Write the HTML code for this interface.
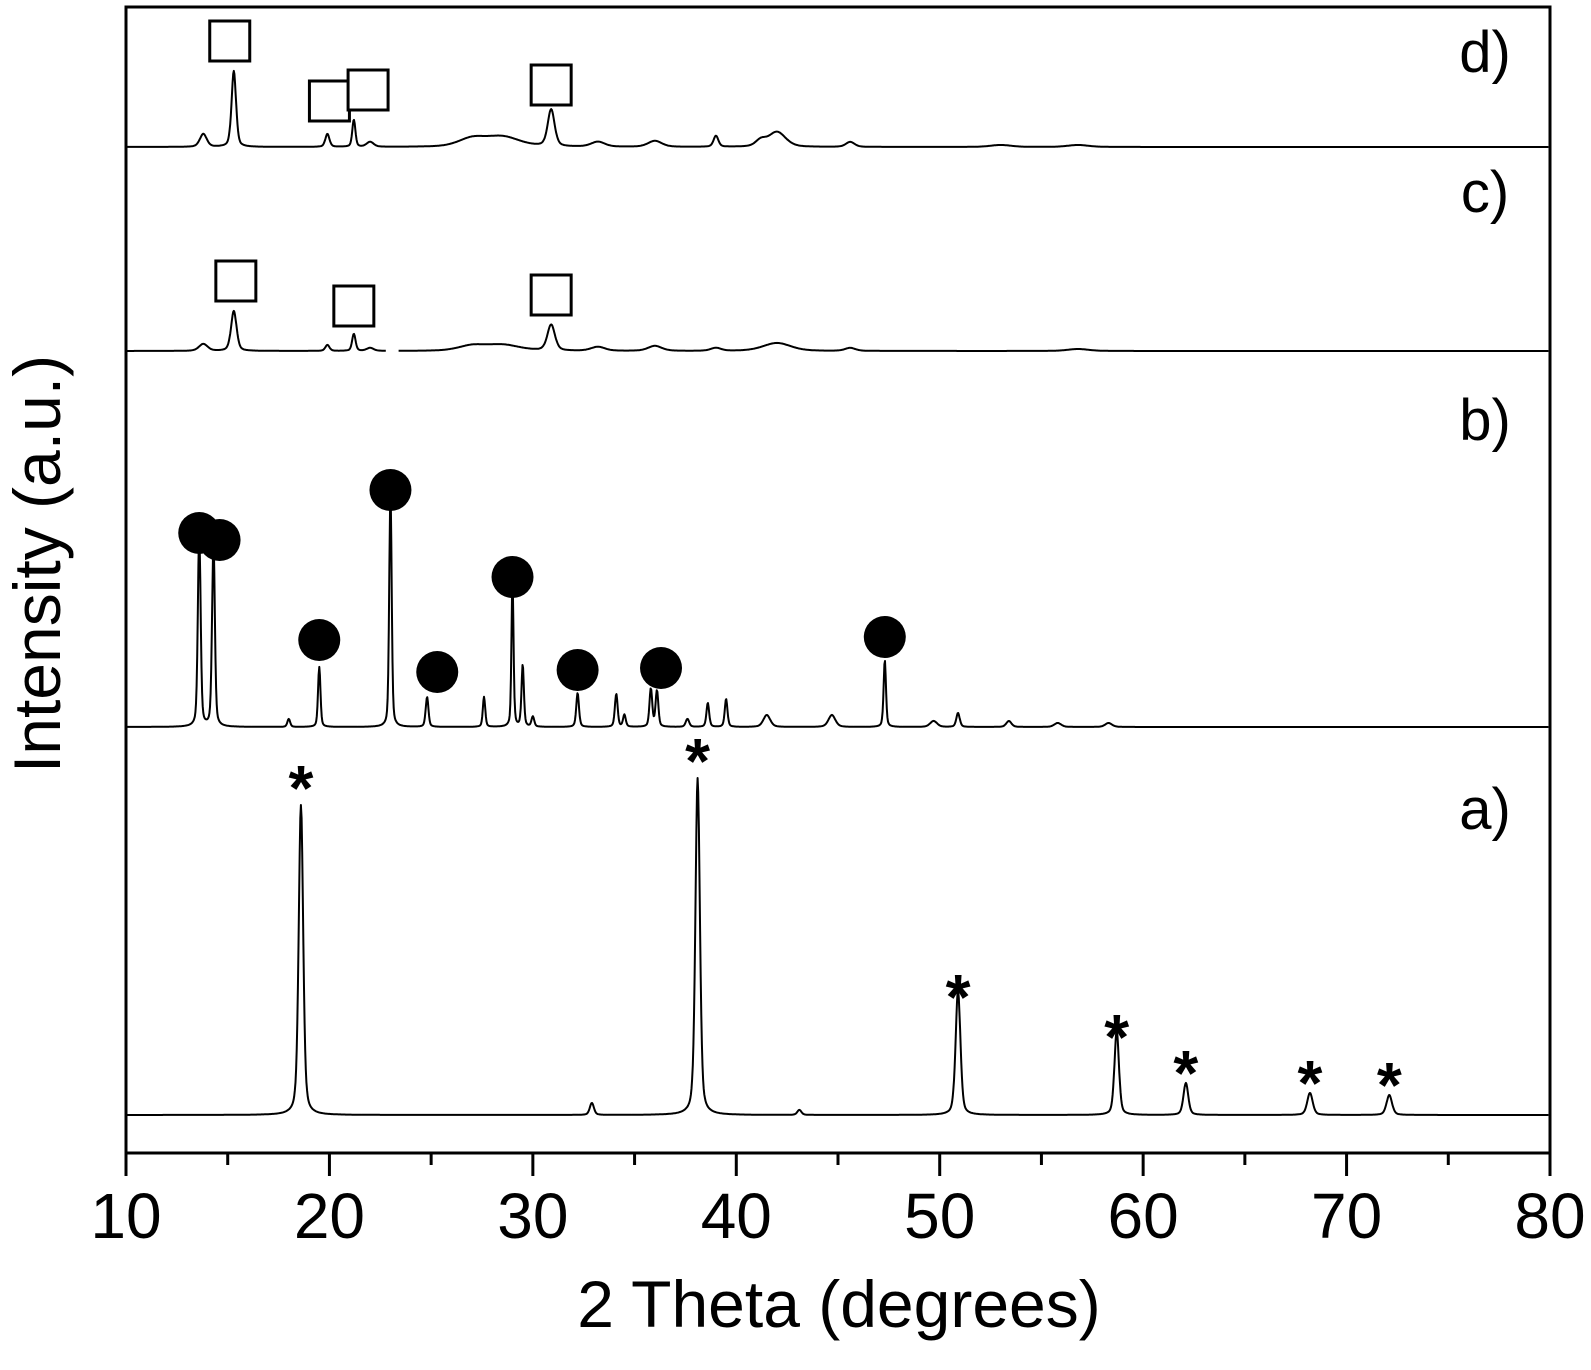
<!DOCTYPE html>
<html><head><meta charset="utf-8"><style>
html,body{margin:0;padding:0;background:#fff}
svg{display:block}
text{font-family:"Liberation Sans",Arial,sans-serif;fill:#000}
</style></head><body>
<svg id="chart" width="1591" height="1370" viewBox="0 0 1591 1370" xmlns="http://www.w3.org/2000/svg">
<g id="traces"></g>
<g id="markers"></g>
<g id="axes"></g>
<text x="839" y="1327" font-size="66" text-anchor="middle">2 Theta (degrees)</text>
<text x="0" y="0" font-size="66" text-anchor="middle" transform="translate(60,564) rotate(-90)">Intensity (a.u.)</text>
</svg>
<script>
// x-axis
const xTicks = [10,20,30,40,50,60,70,80];
const xMinor = [15,25,35,45,55,65,75];
// trace labels and baselines (offsets)
const traceNames = ["a)","b)","c)","d)"];
const baselines = [1115,727,351,147];
const labelY = [829,440,212,72];
// peaks per trace: position (deg), height, width (deg)
const aPos = [18.6,32.9,38.1,43.1,50.9,58.7,62.1,68.2,72.1];
const aH   = [310,12,337,5,125,85,32,22,20];
const aW   = [0.13,0.12,0.13,0.12,0.14,0.13,0.14,0.16,0.16];
const bPos = [13.6,14.3,18.0,19.5,23.0,24.8,27.6,29.0,29.5,30.0,32.2,34.1,34.5,35.8,36.1,37.6,38.6,39.5,41.5,44.7,47.3,49.7,50.9,53.4,55.8,58.3];
const bH   = [195,187,8,60,237,30,30,150,62,10,34,33,12,38,36,8,24,28,12,12,67,6,14,6,4,4];
const bW   = [0.08,0.08,0.08,0.07,0.07,0.08,0.07,0.06,0.07,0.08,0.08,0.08,0.08,0.08,0.08,0.1,0.08,0.08,0.2,0.2,0.07,0.2,0.1,0.15,0.2,0.2];
const cPos = [13.8,15.3,19.9,21.2,22.0,27.0,28.5,30.9,33.2,36.0,39.0,42.0,45.6,56.8];
const cH   = [7,40,6,17,3,5,6,26,4,5,3,8,3,2];
const cW   = [0.25,0.16,0.12,0.1,0.2,0.8,1.0,0.22,0.4,0.4,0.3,0.8,0.3,0.6];
const dPos = [13.8,15.3,19.9,21.2,22.0,27.0,28.5,30.9,33.2,36.0,39.0,41.2,42.0,45.6,53.0,56.8];
const dH   = [13,76,13,27,5,8,10,37,5,6,11,6,15,5,2,2];
const dW   = [0.2,0.13,0.12,0.09,0.2,0.8,1.0,0.2,0.4,0.4,0.14,0.3,0.5,0.25,0.6,0.6];
// markers
const starPos = [18.6,38.1,50.9,58.7,62.1,68.2,72.1];
const starH   = [337,364,128,88,52,42,40];
const circPos = [13.6,14.6,19.5,23.0,25.3,29.0,32.2,36.3,47.3];
const circH   = [194,187,87,237,55,150,57,59,90];
const cSqPos  = [15.4,21.2,30.9];
const cSqH    = [70,45,56];
const dSqPos  = [15.1,20.0,21.9,30.9];
const dSqH    = [106,46,57,62];

const NS="http://www.w3.org/2000/svg";
const X0=126,X1=1550,YT=7,YB=1153;
function xs(d){return X0+(d-10)*(X1-X0)/70;}
function mk(tag,attrs,parent){const e=document.createElementNS(NS,tag);for(const k in attrs)e.setAttribute(k,attrs[k]);parent.appendChild(e);return e;}
const traces=document.getElementById('traces'),markers=document.getElementById('markers'),axes=document.getElementById('axes');

function profile(d,P,H,W){let s=0;for(let i=0;i<P.length;i++){const u=(d-P[i])/W[i];s+=H[i]*(0.6*Math.exp(-0.693*u*u)+0.4/(1+u*u));}return s;}
const sets=[[aPos,aH,aW],[bPos,bH,bW],[cPos,cH,cW],[dPos,dH,dW]];
for(let t=0;t<4;t++){
  const [P,H,W]=sets[t];let dstr="";let pen=false;
  for(let d=10.05;d<=79.95;d+=0.03){
    if(t===2 && d>22.8 && d<23.4){pen=false;continue;}
    const y=baselines[t]-profile(d,P,H,W);
    dstr+=(pen?"L":"M")+xs(d).toFixed(1)+" "+y.toFixed(1);pen=true;
  }
  const p=mk('path',{d:dstr,fill:'none',stroke:'#000','stroke-width':2,'stroke-linejoin':'round'},traces);
  
  
  const l=mk('text',{x:1485,y:labelY[t],'font-size':58,'text-anchor':'middle'},markers);
  l.textContent=traceNames[t];
  
  
}
for(let i=0;i<starPos.length;i++){
  const s=mk('text',{x:xs(starPos[i]),y:baselines[0]-starH[i]+32,'font-size':64,'font-weight':'bold','text-anchor':'middle'},markers);
  s.textContent='*';
  
  
}
for(let i=0;i<circPos.length;i++){
  const c=mk('circle',{cx:xs(circPos[i]),cy:baselines[1]-circH[i],r:21,fill:'#000'},markers);
  
  
}
function squares(P,H,t){for(let i=0;i<P.length;i++){
  const r=mk('rect',{x:xs(P[i])-20,y:baselines[t]-H[i]-20,width:40,height:40,fill:'#fff',stroke:'#000','stroke-width':3},markers);
  
  
}}
squares(cSqPos,cSqH,2);squares(dSqPos,dSqH,3);

const fr=mk('rect',{x:X0,y:YT,width:X1-X0,height:YB-YT,fill:'none',stroke:'#000','stroke-width':3},axes);


for(const v of xTicks){
  const tk=mk('line',{x1:xs(v),x2:xs(v),y1:YB,y2:YB+23,stroke:'#000','stroke-width':3},axes);
  
  
  const tl=mk('text',{x:xs(v),y:1238,'font-size':64,'text-anchor':'middle'},axes);
  tl.textContent=String(v);
  
  
}
for(const v of xMinor){
  const tk=mk('line',{x1:xs(v),x2:xs(v),y1:YB,y2:YB+12,stroke:'#000','stroke-width':3},axes);
  
  
}
</script>
</body></html>
